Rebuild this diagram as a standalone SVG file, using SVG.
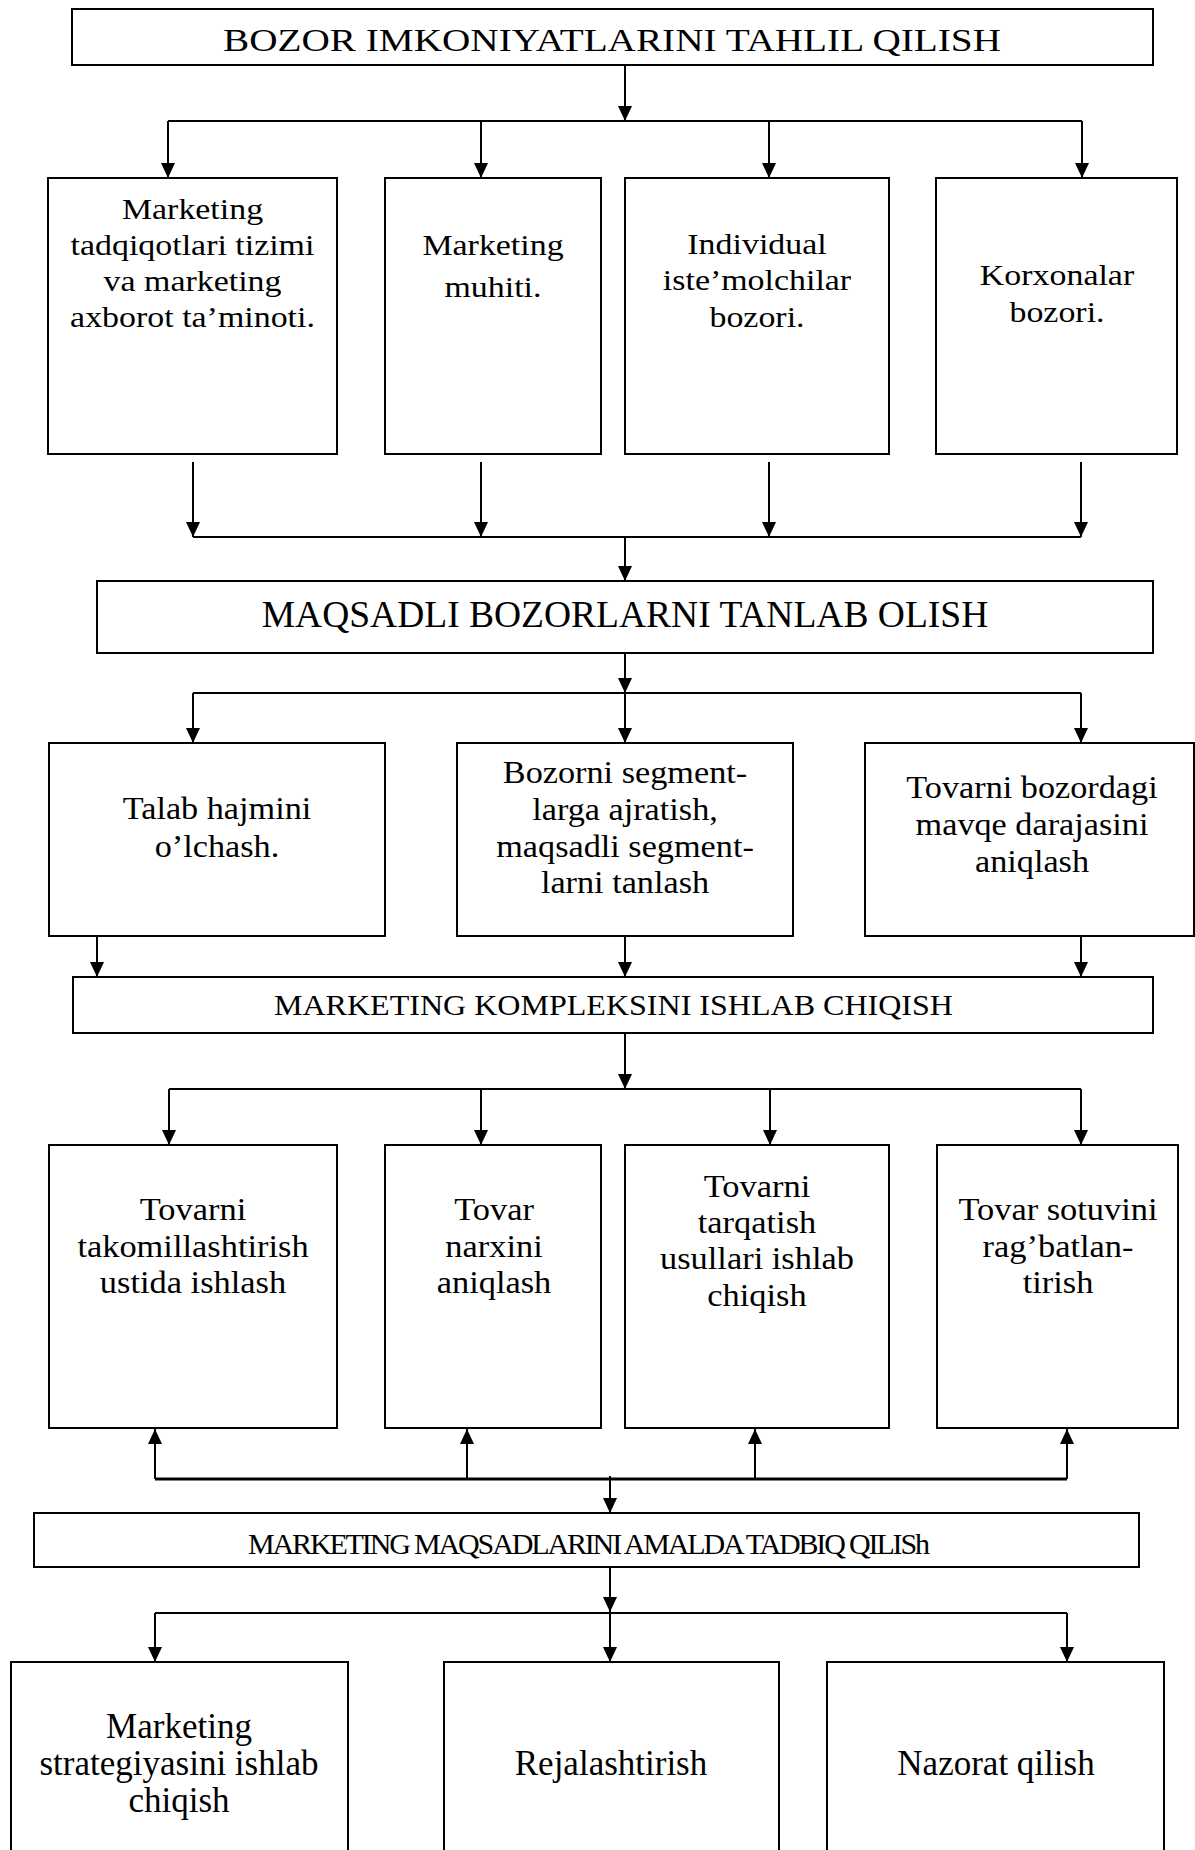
<svg xmlns="http://www.w3.org/2000/svg" width="1195" height="1850" viewBox="0 0 1195 1850">
  <style>
    .box { fill: #fff; stroke: #000; stroke-width: 2; }
    .lbl { font-family: "Liberation Serif", "Times New Roman", serif; fill: #000; text-anchor: middle; }
    .r1 { font-size: 29.5px; }
    .r2 { font-size: 32px; }
    .r3 { font-size: 31px; }
    .r4 { font-size: 35px; }
    .wire { stroke: #000; stroke-width: 2; fill: none; }
    .bus { stroke: #000; stroke-width: 2; fill: none; }
    .arr { marker-end: url(#ah); }
  </style>
  <defs>
    <marker id="ah" markerUnits="userSpaceOnUse" markerWidth="15" markerHeight="14" refX="15" refY="7" orient="auto">
      <path d="M0,0 L15,7 L0,14 z" fill="#000"/>
    </marker>
  </defs>
  <rect width="1195" height="1850" fill="#fff"/>

  <!-- connectors -->
  <g id="connectors">
    <!-- level 1 -> four analysis boxes -->
    <line class="wire arr" x1="625" y1="65" x2="625" y2="121"/>
    <line class="bus" x1="168" y1="121" x2="1082" y2="121"/>
    <line class="wire arr" x1="168" y1="121" x2="168" y2="178"/>
    <line class="wire arr" x1="481" y1="121" x2="481" y2="178"/>
    <line class="wire arr" x1="769" y1="121" x2="769" y2="178"/>
    <line class="wire arr" x1="1082" y1="121" x2="1082" y2="178"/>
    <!-- four analysis boxes -> level 2 -->
    <line class="wire arr" x1="193" y1="462" x2="193" y2="537"/>
    <line class="wire arr" x1="481" y1="462" x2="481" y2="537"/>
    <line class="wire arr" x1="769" y1="462" x2="769" y2="537"/>
    <line class="wire arr" x1="1081" y1="462" x2="1081" y2="537"/>
    <line class="bus" x1="193" y1="537" x2="1081" y2="537"/>
    <line class="wire arr" x1="625" y1="537" x2="625" y2="581"/>
    <!-- level 2 -> three selection boxes -->
    <line class="wire arr" x1="625" y1="644" x2="625" y2="693"/>
    <line class="bus" x1="193" y1="693" x2="1081" y2="693"/>
    <line class="wire arr" x1="193" y1="693" x2="193" y2="743"/>
    <line class="wire arr" x1="625" y1="693" x2="625" y2="743"/>
    <line class="wire arr" x1="1081" y1="693" x2="1081" y2="743"/>
    <!-- three selection boxes -> level 3 -->
    <line class="wire arr" x1="97" y1="932" x2="97" y2="977"/>
    <line class="wire arr" x1="625" y1="932" x2="625" y2="977"/>
    <line class="wire arr" x1="1081" y1="932" x2="1081" y2="977"/>
    <!-- level 3 -> four mix boxes -->
    <line class="wire arr" x1="625" y1="1033" x2="625" y2="1089"/>
    <line class="bus" x1="169" y1="1089" x2="1081" y2="1089"/>
    <line class="wire arr" x1="169" y1="1089" x2="169" y2="1145"/>
    <line class="wire arr" x1="481" y1="1089" x2="481" y2="1145"/>
    <line class="wire arr" x1="770" y1="1089" x2="770" y2="1145"/>
    <line class="wire arr" x1="1081" y1="1089" x2="1081" y2="1145"/>
    <!-- level 4 feeds back up into the mix boxes -->
    <line class="bus" x1="155" y1="1479" x2="1067" y2="1479" style="stroke-width:3"/>
    <line class="wire arr" x1="155" y1="1479" x2="155" y2="1429"/>
    <line class="wire arr" x1="467" y1="1479" x2="467" y2="1429"/>
    <line class="wire arr" x1="755" y1="1479" x2="755" y2="1429"/>
    <line class="wire arr" x1="1067" y1="1479" x2="1067" y2="1429"/>
    <line class="wire arr" x1="610" y1="1476" x2="610" y2="1513"/>
    <!-- level 4 -> three implementation boxes -->
    <line class="wire arr" x1="610" y1="1563" x2="610" y2="1612"/>
    <line class="bus" x1="155" y1="1613" x2="1067" y2="1613"/>
    <line class="wire arr" x1="155" y1="1613" x2="155" y2="1662"/>
    <line class="wire arr" x1="610" y1="1613" x2="610" y2="1662"/>
    <line class="wire arr" x1="1067" y1="1613" x2="1067" y2="1662"/>
  </g>

  <!-- level 1 -->
  <g id="n-analysis">
    <rect class="box" x="72" y="9" width="1081" height="56"/>
    <text class="lbl" x="612" y="51" font-size="30.5" textLength="778" lengthAdjust="spacingAndGlyphs">BOZOR IMKONIYATLARINI TAHLIL QILISH</text>
  </g>

  <g id="n-research">
    <rect class="box" x="48" y="178" width="289" height="276"/>
    <g class="lbl r1" transform="translate(192.5 0) scale(1.15 1)">
      <text x="0" y="219">Marketing</text>
      <text x="0" y="255">tadqiqotlari tizimi</text>
      <text x="0" y="291">va marketing</text>
      <text x="0" y="327">axborot ta’minoti.</text>
    </g>
  </g>
  <g id="n-environment">
    <rect class="box" x="385" y="178" width="216" height="276"/>
    <g class="lbl r1" transform="translate(493 0) scale(1.15 1)">
      <text x="0" y="255">Marketing</text>
      <text x="0" y="297">muhiti.</text>
    </g>
  </g>
  <g id="n-consumers">
    <rect class="box" x="625" y="178" width="264" height="276"/>
    <g class="lbl r1" transform="translate(757 0) scale(1.15 1)">
      <text x="0" y="254">Individual</text>
      <text x="0" y="290">iste’molchilar</text>
      <text x="0" y="327">bozori.</text>
    </g>
  </g>
  <g id="n-business">
    <rect class="box" x="936" y="178" width="241" height="276"/>
    <g class="lbl r1" transform="translate(1057 0) scale(1.15 1)">
      <text x="0" y="285">Korxonalar</text>
      <text x="0" y="322">bozori.</text>
    </g>
  </g>

  <!-- level 2 -->
  <g id="n-targeting">
    <rect class="box" x="97" y="581" width="1056" height="72"/>
    <text class="lbl" x="625" y="627" font-size="37.5">MAQSADLI BOZORLARNI TANLAB OLISH</text>
  </g>

  <g id="n-demand">
    <rect class="box" x="49" y="743" width="336" height="193"/>
    <g class="lbl r2" transform="translate(217 0) scale(1.07 1)">
      <text x="0" y="819">Talab hajmini</text>
      <text x="0" y="857">o’lchash.</text>
    </g>
  </g>
  <g id="n-segments">
    <rect class="box" x="457" y="743" width="336" height="193"/>
    <g class="lbl r2" transform="translate(625 0) scale(1.07 1)">
      <text x="0" y="783">Bozorni segment-</text>
      <text x="0" y="820">larga ajratish,</text>
      <text x="0" y="857">maqsadli segment-</text>
      <text x="0" y="893">larni tanlash</text>
    </g>
  </g>
  <g id="n-position">
    <rect class="box" x="865" y="743" width="329" height="193"/>
    <g class="lbl r2" transform="translate(1032 0) scale(1.07 1)">
      <text x="0" y="798">Tovarni bozordagi</text>
      <text x="0" y="835">mavqe darajasini</text>
      <text x="0" y="872">aniqlash</text>
    </g>
  </g>

  <!-- level 3 -->
  <g id="n-mix">
    <rect class="box" x="73" y="977" width="1080" height="56"/>
    <text class="lbl" x="613.5" y="1015" font-size="30" textLength="679" lengthAdjust="spacingAndGlyphs">MARKETING KOMPLEKSINI ISHLAB CHIQISH</text>
  </g>

  <g id="n-product">
    <rect class="box" x="49" y="1145" width="288" height="283"/>
    <g class="lbl r3" transform="translate(193 0) scale(1.11 1)">
      <text x="0" y="1220">Tovarni</text>
      <text x="0" y="1257">takomillashtirish</text>
      <text x="0" y="1293">ustida ishlash</text>
    </g>
  </g>
  <g id="n-price">
    <rect class="box" x="385" y="1145" width="216" height="283"/>
    <g class="lbl r3" transform="translate(494 0) scale(1.11 1)">
      <text x="0" y="1220">Tovar</text>
      <text x="0" y="1257">narxini</text>
      <text x="0" y="1293">aniqlash</text>
    </g>
  </g>
  <g id="n-distribution">
    <rect class="box" x="625" y="1145" width="264" height="283"/>
    <g class="lbl r3" transform="translate(757 0) scale(1.11 1)">
      <text x="0" y="1197">Tovarni</text>
      <text x="0" y="1233">tarqatish</text>
      <text x="0" y="1269">usullari ishlab</text>
      <text x="0" y="1306">chiqish</text>
    </g>
  </g>
  <g id="n-promotion">
    <rect class="box" x="937" y="1145" width="241" height="283"/>
    <g class="lbl r3" transform="translate(1058 0) scale(1.11 1)">
      <text x="0" y="1220">Tovar sotuvini</text>
      <text x="0" y="1257">rag’batlan-</text>
      <text x="0" y="1293">tirish</text>
    </g>
  </g>

  <!-- level 4 -->
  <g id="n-implementation">
    <rect class="box" x="34" y="1513" width="1105" height="54"/>
    <text class="lbl" x="589" y="1554" font-size="30" textLength="682" lengthAdjust="spacing">MARKETING MAQSADLARINI AMALDA TADBIQ QILISh</text>
  </g>

  <g id="n-strategy">
    <rect class="box" x="11" y="1662" width="337" height="200"/>
    <g class="lbl r4">
      <text x="179" y="1738">Marketing</text>
      <text x="179" y="1775">strategiyasini ishlab</text>
      <text x="179" y="1812">chiqish</text>
    </g>
  </g>
  <g id="n-planning">
    <rect class="box" x="444" y="1662" width="335" height="200"/>
    <text class="lbl r4" x="611" y="1775">Rejalashtirish</text>
  </g>
  <g id="n-control">
    <rect class="box" x="827" y="1662" width="337" height="200"/>
    <text class="lbl r4" x="996" y="1775">Nazorat qilish</text>
  </g>
</svg>
